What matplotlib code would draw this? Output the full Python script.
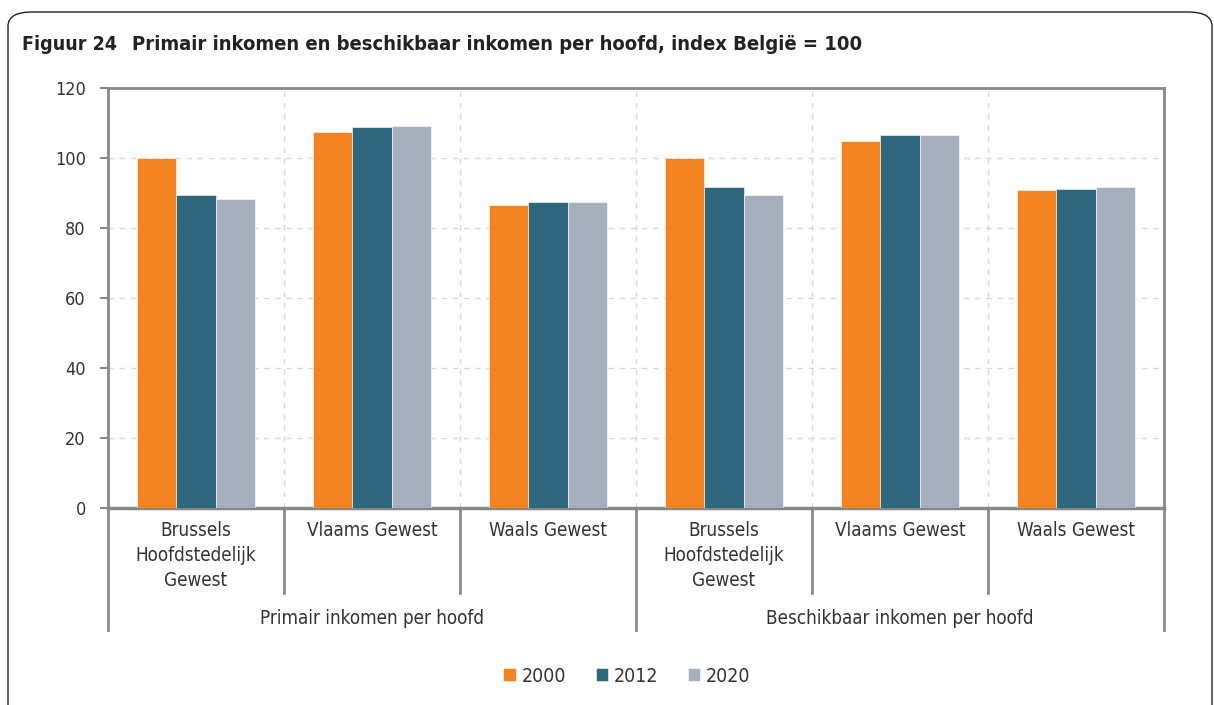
import matplotlib
matplotlib.use("Agg")
import matplotlib.pyplot as plt
import matplotlib.transforms as mtransforms
from matplotlib.patches import FancyBboxPatch
import numpy as np

plt.rcParams['font.family'] = ['DejaVu Sans']
plt.rcParams['font.stretch'] = 'condensed'

regions = ["Brussels\nHoofdstedelijk\nGewest", "Vlaams Gewest", "Waals Gewest",
           "Brussels\nHoofdstedelijk\nGewest", "Vlaams Gewest", "Waals Gewest"]
groups = ["Primair inkomen per hoofd", "Beschikbaar inkomen per hoofd"]
years = ["2000", "2012", "2020"]
v2000 = [100.0, 107.5, 86.7, 100.0, 105.0, 91.0]
v2012 = [89.4, 108.9, 87.5, 91.6, 106.5, 91.1]
v2020 = [88.3, 109.2, 87.5, 89.3, 106.7, 91.7]
colors = ["#F28322", "#2E677D", "#A6B0BD"]

W, H = 1214, 705
fig = plt.figure(figsize=(W / 100, H / 100), dpi=100)

# outer rounded frame
frame = FancyBboxPatch((8 / W, -0.05), (1212 - 8) / W, (705 - 12) / H + 0.05,
                       boxstyle="round,pad=0,rounding_size=0.02",
                       transform=fig.transFigure, fill=False, ec="#222222", lw=1.0,
                       clip_on=False)
fig.patches.append(frame)

fig.text(22 / W, 1 - 45 / H, "Figuur 24", fontsize=14, fontweight='bold',
         color="#222222", va='center', ha='left')
fig.text(132 / W, 1 - 45 / H, "Primair inkomen en beschikbaar inkomen per hoofd, index België = 100",
         fontsize=14.5, fontweight='bold', color="#222222", va='center', ha='left')

ax = fig.add_axes([108 / W, 1 - 508 / H, (1164 - 108) / W, (508 - 88) / H])
x = np.arange(len(regions))
bw = 0.223
for i, (vals, c, lab) in enumerate(zip([v2000, v2012, v2020], colors, years)):
    ax.bar(x + (i - 1) * bw, vals, width=bw, color=c, label=lab, zorder=3,
           edgecolor='white', linewidth=0.4)

ax.set_xlim(-0.5, len(regions) - 0.5)
ax.set_ylim(0, 120)
ax.set_yticks(np.arange(0, 121, 20))
ax.tick_params(axis='y', length=6, width=1.5, color="#888888", pad=10,
               labelsize=13, labelcolor="#333333")
ax.set_xticks([])
ax.grid(axis='y', color="#D9D9D9", linestyle=(0, (4, 4)), linewidth=1, zorder=0)
for b in np.arange(0.5, len(regions) - 0.5, 1.0):
    ax.axvline(b, color="#D9D9D9", linestyle=(0, (4, 4)), linewidth=1, zorder=0)
for s in ['left', 'right', 'top']:
    ax.spines[s].set_color("#888888")
    ax.spines[s].set_linewidth(2)
ax.spines['bottom'].set_color("#888888")
ax.spines['bottom'].set_linewidth(2.5)

trans = mtransforms.blended_transform_factory(ax.transData, ax.transAxes)
inner_y = -(593 - 508) / 420
outer_y = -(630 - 508) / 420
for b in np.arange(-0.5, len(regions), 1.0):
    yy = outer_y if b in (-0.5, 2.5, 5.5) else inner_y
    ax.plot([b, b], [0, yy], transform=trans, color="#8C8C8C", lw=2, clip_on=False)

for xi, r in zip(x, regions):
    ax.text(xi, -(521 - 508) / 420, r, transform=trans, ha='center', va='top',
            fontsize=13.5, color="#333333", linespacing=1.4)
for gi, g in enumerate(groups):
    ax.text(gi * 3 + 1, -(618 - 508) / 420, g, transform=trans, ha='center', va='center',
            fontsize=13.5, color="#333333")

leg = fig.legend(loc='center', bbox_to_anchor=(627 / W, 1 - 676 / H), ncol=3,
                 frameon=False, fontsize=14, handlelength=0.65, handleheight=0.65,
                 handletextpad=0.3, columnspacing=1.5, labelcolor="#333333")

fig.savefig("out.png", dpi=100)
